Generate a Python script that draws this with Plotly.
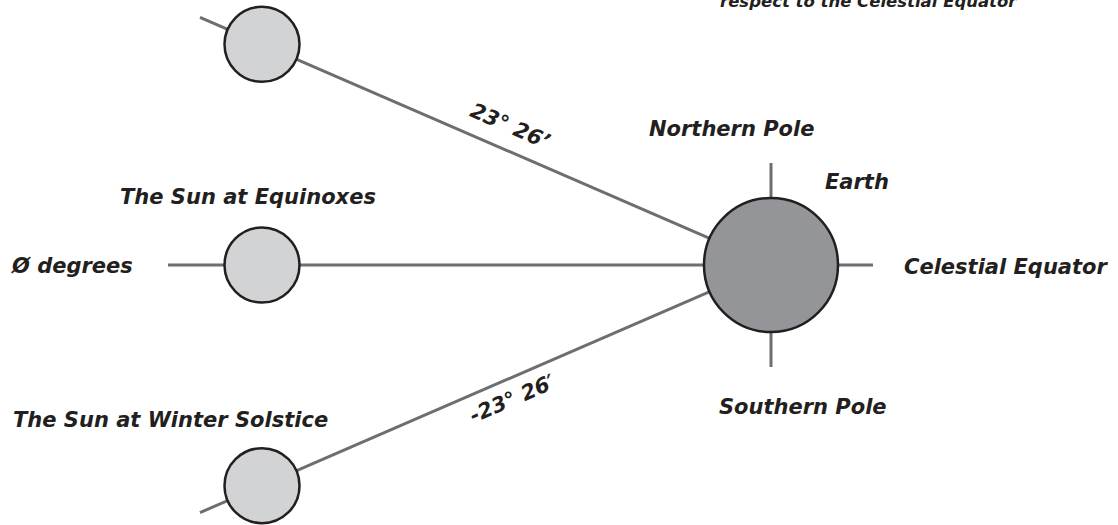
import math
import plotly.graph_objects as go

# ---- data ----
declinations = [23.44, 0.0, -23.44]          # degrees of the Sun w.r.t. the celestial equator
sun_names = ["Summer Solstice", "Equinoxes", "Winter Solstice"]
angle_labels = ["23° 26’", "", "-23° 26′"]
label_texts = ["Northern Pole", "Earth", "The Sun at Equinoxes", "Ø degrees",
               "Celestial Equator", "Southern Pole", "The Sun at Winter Solstice"]
title_text = "respect to the Celestial Equator"

# ---- geometry / style (pixel space of the page) ----
W, H = 1118, 525
EX, EY = 771, 265          # earth centre
ER = 67                    # earth radius
SUN_DX = 509               # horizontal distance sun -> earth
SR = 37.5                  # sun radius
LINE_START_DX = [571, 603, 571]
TICK = 35
LINE_COL = "#6d6e71"
EDGE = "#231f20"
SUN_FILL = "#d1d3d4"
EARTH_FILL = "#939598"
FONT = dict(family="DejaVu Sans", size=21, color=EDGE, weight="bold", style="italic")
TITLE_FONT = dict(FONT, size=16.5)

fig = go.Figure()

# sight lines from earth to the suns
for d, dx in zip(declinations, LINE_START_DX):
    t = math.tan(math.radians(d))
    fig.add_trace(go.Scatter(x=[EX - dx, EX], y=[EY - dx * t, EY], mode="lines",
                             line=dict(color=LINE_COL, width=3), hoverinfo="skip"))

# earth axis ticks
ticks = [([EX, EX], [EY - ER - TICK, EY - ER]),
         ([EX, EX], [EY + ER, EY + ER + TICK]),
         ([EX + ER, EX + ER + TICK], [EY, EY])]
for xs, ys in ticks:
    fig.add_trace(go.Scatter(x=xs, y=ys, mode="lines",
                             line=dict(color=LINE_COL, width=3), hoverinfo="skip"))

# suns
sx = [EX - SUN_DX for _ in declinations]
sy = [EY - SUN_DX * math.tan(math.radians(d)) for d in declinations]
fig.add_trace(go.Scatter(x=sx, y=sy, mode="markers", text=sun_names,
                         marker=dict(size=2 * SR, color=SUN_FILL,
                                     line=dict(color=EDGE, width=2.5))))
# earth
fig.add_trace(go.Scatter(x=[EX], y=[EY], mode="markers", text=["Earth"],
                         marker=dict(size=2 * ER, color=EARTH_FILL,
                                     line=dict(color=EDGE, width=2.5))))

# rotated angle labels
fig.add_annotation(x=510, y=126, text=angle_labels[0], showarrow=False,
                   textangle=23.44, font=FONT)
fig.add_annotation(x=512, y=399, text=angle_labels[2], showarrow=False,
                   textangle=-23.44, font=FONT)

label_pos = [(731, 129), (857, 182), (248, 197), (72, 266),
             (1006, 267), (803, 407), (170, 420)]
for txt, (x, y) in zip(label_texts, label_pos):
    fig.add_annotation(x=x, y=y, text=txt, showarrow=False, font=FONT)

# partly visible title line at the very top
fig.add_annotation(x=868, y=1, text=title_text, showarrow=False, font=TITLE_FONT)

fig.update_layout(
    width=W, height=H, autosize=False,
    margin=dict(l=0, r=0, t=0, b=0),
    paper_bgcolor="white", plot_bgcolor="white",
    showlegend=False,
    xaxis=dict(range=[0, W], visible=False, fixedrange=True),
    yaxis=dict(range=[H, 0], visible=False, fixedrange=True),
)

fig.write_html("out.html", config={"displayModeBar": False},
               post_script="document.body.style.margin='0';document.body.style.overflow='hidden';")
